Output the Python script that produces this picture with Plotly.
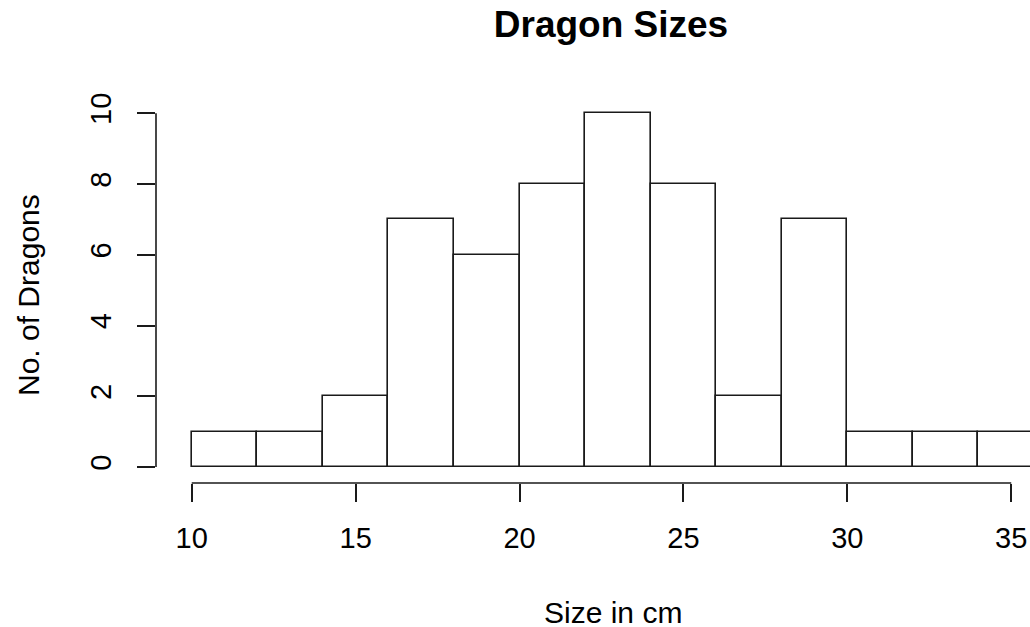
import plotly.graph_objects as go

bin_starts = [10, 12, 14, 16, 18, 20, 22, 24, 26, 28, 30, 32, 34]
bin_width = 2
counts = [1, 1, 2, 7, 6, 8, 10, 8, 2, 7, 1, 1, 1]
x_ticks = [10, 15, 20, 25, 30, 35]
y_ticks = [0, 2, 4, 6, 8, 10]

FONT = "Liberation Sans, Arial, sans-serif"
LINE = "#1a1a1a"

W, H = 1030, 627
ML, MR, MT, MB = 156, 0, 99, 144
pw = W - ML - MR
ph = H - MT - MB

fig = go.Figure()
fig.add_trace(go.Bar(
    x=bin_starts, y=counts, width=[bin_width] * len(counts), offset=0,
    marker=dict(color="white", line=dict(color=LINE, width=1.6)),
    showlegend=False, hoverinfo="skip",
))

fig.update_layout(
    width=W, height=H,
    margin=dict(l=ML, r=MR, t=MT, b=MB, pad=0),
    paper_bgcolor="white", plot_bgcolor="white",
    bargap=0,
    title=dict(text="<b>Dragon Sizes</b>", x=611 / W, xanchor="center",
               y=1 - 24.5 / H, yanchor="middle",
               font=dict(family=FONT, size=37, color="black")),
    xaxis=dict(range=[8.91, 8.91 + pw / 32.78], tickvals=x_ticks,
               ticktext=[str(v) for v in x_ticks],
               showgrid=False, zeroline=False, showline=False,
               ticks="outside", ticklen=18, tickwidth=1.6, tickcolor=LINE,
               ticklabelstandoff=11,
               tickfont=dict(family=FONT, size=29, color="black")),
    yaxis=dict(range=[-0.45, 10.4], tickvals=y_ticks,
               ticktext=[str(v) for v in y_ticks],
               showgrid=False, zeroline=False, showline=False,
               ticks="outside", ticklen=18, tickwidth=1.6, tickcolor=LINE,
               tickangle=-90, ticklabelstandoff=14,
               tickfont=dict(family=FONT, size=29, color="black")),
    shapes=[
        dict(type="line", xref="x", yref="paper", x0=x_ticks[0], x1=x_ticks[-1],
             y0=0, y1=0, line=dict(color=LINE, width=1.6)),
        dict(type="line", xref="paper", yref="y", x0=0, x1=0,
             y0=y_ticks[0], y1=y_ticks[-1], line=dict(color=LINE, width=1.6)),
    ],
    annotations=[
        dict(text="Size in cm", xref="paper", yref="paper",
             x=(613 - ML) / pw, y=(H - MB - 612) / ph,
             xanchor="center", yanchor="middle",
             showarrow=False, font=dict(family=FONT, size=30, color="black")),
        dict(text="No. of Dragons", xref="paper", yref="paper",
             x=(28 - ML) / pw, y=(H - MB - 295) / ph,
             xanchor="center", yanchor="middle",
             textangle=-90, showarrow=False,
             font=dict(family=FONT, size=30, color="black")),
    ],
)

fig.write_html(
    "out.html",
    config={"displayModeBar": False},
    post_script="document.body.style.margin='0';document.body.style.overflow='hidden';",
)
